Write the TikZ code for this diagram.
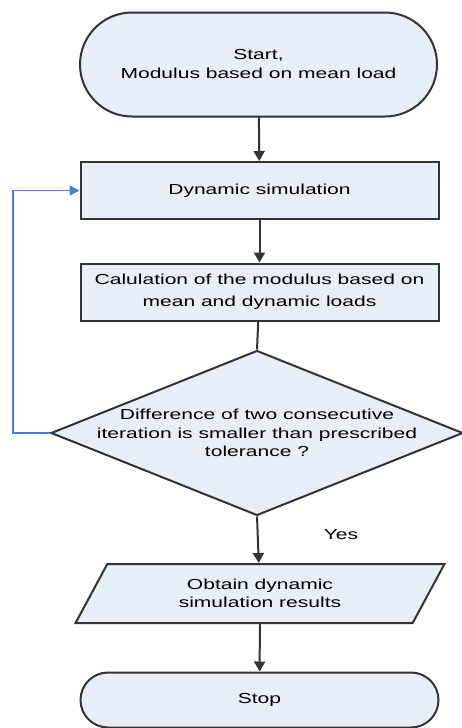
\documentclass[tikz,border=0pt]{standalone}
\usepackage{fontspec}
\setmainfont{Liberation Sans}[FakeStretch=1.45]
\usepackage{tikz}
\usetikzlibrary{positioning}
\usetikzlibrary{arrows.meta}
\usetikzlibrary{shapes.misc,shapes.geometric}
\definecolor{boxfill}{HTML}{E8EEF7}
\definecolor{boxline}{HTML}{333333}
\definecolor{loopblue}{HTML}{4A7FD0}
\tikzset{
    flowbox/.style={draw=boxline, fill=boxfill, line width=2pt, align=center, font=\fontsize{14.5}{19}\selectfont}, % 流程框
    flowarrow/.style={draw=boxline, line width=2pt, -{Triangle[width=11pt,length=10pt]}} % 流程箭头
}

\begin{document}
\begin{tikzpicture}[x=1pt, y=-1pt]

    \useasboundingbox (0,0) rectangle (461,728);

    \node[flowbox, rounded rectangle, minimum width=357pt, minimum height=104pt, inner sep=0pt] (start) at (258.5, 64.5) {Start,\\Modulus based on mean load};

    \node[flowbox, rectangle, minimum width=358pt, minimum height=57pt, inner sep=0pt] (sim) at (259.5, 190.5) {Dynamic simulation};

    \node[flowbox, rectangle, minimum width=358pt, minimum height=57pt, inner sep=0pt, font=\fontsize{14.5}{22}\selectfont] (calc) at (259.5, 292) {Calulation of the modulus based on\\mean and dynamic loads};

    \node[flowbox, diamond, minimum width=412pt, minimum height=165pt, inner sep=0pt, aspect=2.5] (check) at (257, 433) {};
    \node[align=center, font=\fontsize{14.5}{18.5}\selectfont] (checktext) at (check.center) {Difference of two consecutive\\iteration is smaller than prescribed\\tolerance ?};

    \node[flowbox, trapezium, trapezium left angle=59, trapezium right angle=121, trapezium stretches=true, minimum width=370pt, minimum height=59pt, inner sep=0pt, font=\fontsize{14.5}{17.5}\selectfont] (result) at (260, 593.5) {Obtain dynamic\\simulation results};

    \node[flowbox, rounded rectangle, minimum width=358pt, minimum height=55pt, inner sep=0pt] (stop) at (259.5, 700) {Stop};

    \node[font=\fontsize{14.5}{19}\selectfont] (yes) at (341, 535) {Yes};

    \coordinate (loopbottom) at (13, 433);
    \coordinate (looptop) at (13, 190.5);

    \draw[flowarrow] (start) -- (sim);
    \draw[flowarrow] (sim) -- (calc);
    \draw[draw=boxline, line width=2pt] (calc) -- (check.north);
    \draw[flowarrow] (check.south) -- (result);
    \draw[flowarrow] (result) -- (stop);

    \draw[loopblue, line width=1.4pt, -{Triangle[width=10pt,length=10pt]}] (check.west) -- (loopbottom) -- (looptop) -- (sim.west);

\end{tikzpicture}
\end{document}
